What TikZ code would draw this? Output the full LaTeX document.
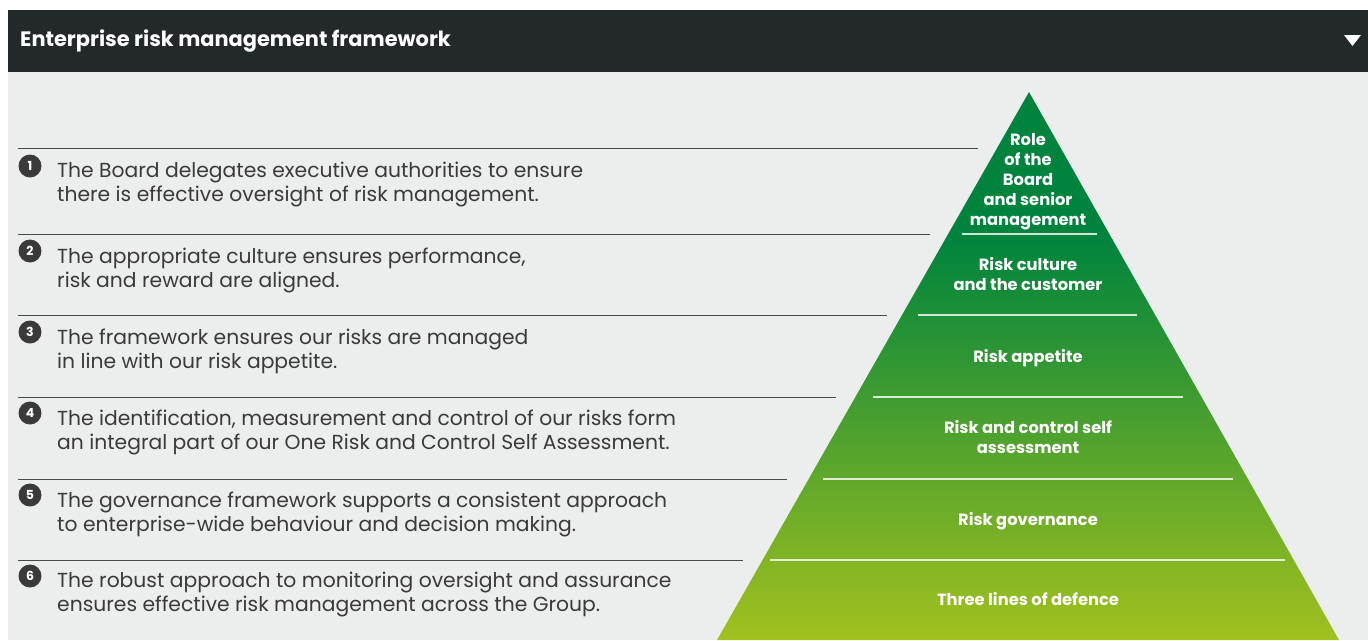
\documentclass[tikz,border=0pt]{standalone}
\usepackage{fontspec}
\setmainfont{Poppins}
\definecolor{headbg}{HTML}{23282B}
\definecolor{pagebg}{HTML}{ECEEED}
\definecolor{bodytext}{HTML}{3A3A3A}
\definecolor{rulegrey}{HTML}{4A4A4A}
\definecolor{topgreen}{HTML}{00843D}
\definecolor{basegreen}{HTML}{A2C11E}
\tikzset{
  numdot/.style={circle,fill=bodytext,text=white,inner sep=0pt,minimum size=23pt,
    font=\bfseries\fontsize{12.5}{12.5}\selectfont},
  itemtext/.style={anchor=west,inner sep=0pt,align=left,text=bodytext,
    font=\fontsize{20.3}{24}\selectfont},
  tierlabel/.style={align=center,text=white,inner sep=0pt,
    font=\bfseries\fontsize{16.3}{20}\selectfont},
  tierline/.style={white,opacity=0.8,line width=1.3pt}
}
\begin{document}
\begin{tikzpicture}[x=1pt,y=-1pt]
\useasboundingbox (0,0) rectangle (1368,640);
\fill[white] (0,0) rectangle (1368,640);
\fill[pagebg] (8,72) rectangle (1368,640);
% header bar
\fill[headbg] (8,10) rectangle (1368,72);
\node[anchor=west,text=white,inner sep=0pt,font=\bfseries\fontsize{20.9}{20.9}\selectfont] (title) at (20,41.5) {Enterprise risk management framework};
\fill[white] (1344,35) -- (1361,35) -- (1352.5,46) -- cycle;

% pyramid
\coordinate (apex) at (1029,92);
\coordinate (baseL) at (717,640);
\coordinate (baseR) at (1339,640);
\begin{scope}
\clip (apex) -- (baseR) -- (baseL) -- cycle;
\fill[topgreen] (700,90) rectangle (1360,240);
\shade[top color=topgreen,bottom color=basegreen] (700,239.5) rectangle (1360,641);
\end{scope}
\foreach \y/\xa/\xb in {234/962/1097,315/918/1137,397/873/1183,479/823/1233,560/770/1285} {
\draw[tierline] (\xa,\y) -- (\xb,\y);
}
\node[tierlabel] (tier1) at (1028,182) {Role\\of the\\Board\\and senior\\management};
\node[tierlabel] (tier2) at (1028,274) {Risk culture\\and the customer};
\node[tierlabel] (tier3) at (1028,358) {Risk appetite};
\node[tierlabel] (tier4) at (1028,437) {Risk and control self\\assessment};
\node[tierlabel] (tier5) at (1028,521) {Risk governance};
\node[tierlabel] (tier6) at (1028,599) {Three lines of defence};

% left rules
\foreach \y/\xe in {148/978,234/930,315/887,397/836,479/787,560/743} {
\draw[rulegrey,line width=1pt] (18,\y) -- (\xe,\y);
}

% numbered statements
\foreach \n/\y/\txt in {
  1/171/{The Board delegates executive authorities to ensure\\there is effective oversight of risk management.},
  2/256/{The appropriate culture ensures performance,\\risk and reward are aligned.},
  3/337/{The framework ensures our risks are managed\\in line with our risk appetite.},
  4/418/{The identification, measurement and control of our risks form\\an integral part of our One Risk and Control Self Assessment.},
  5/500/{The governance framework supports a consistent approach\\to enterprise-wide behaviour and decision making.},
  6/581/{The robust approach to monitoring oversight and assurance\\ensures effective risk management across the Group.}} {
\node[numdot] (num\n) at (30,\y-5) {\n};
\node[itemtext] (item\n) at (57,\y+14) {\txt};
}
\end{tikzpicture}
\end{document}
